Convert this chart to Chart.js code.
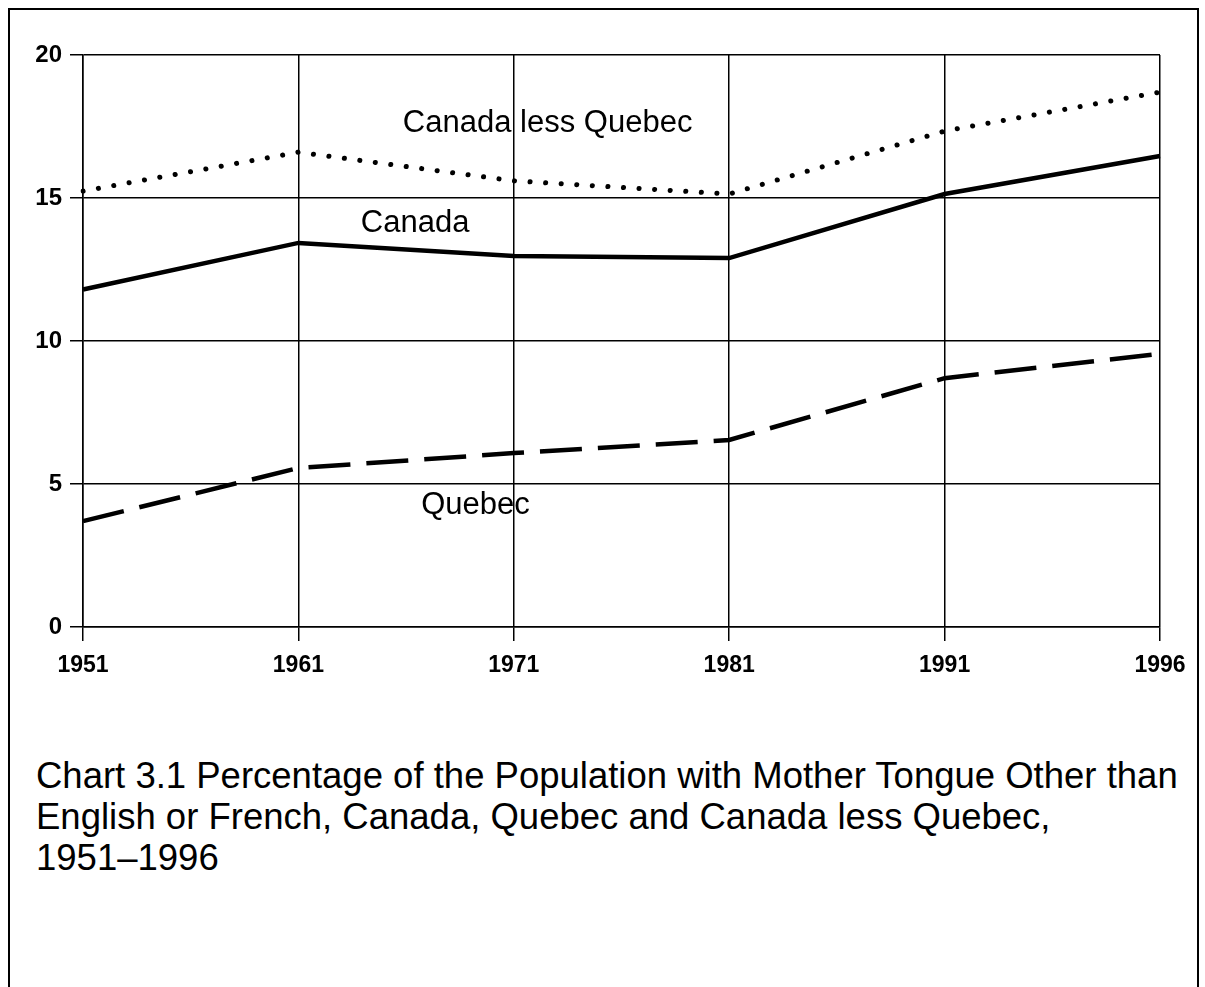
<!DOCTYPE html>
<html>
<head>
<meta charset="utf-8">
<script src="https://cdn.jsdelivr.net/npm/chart.js@4"></script>
<style>
  html, body { margin: 0; padding: 0; background: #fff; }
  body { width: 1205px; height: 987px; position: relative; overflow: hidden; }
  #frame { position: absolute; left: 8px; top: 8px; width: 1191px; height: 1000px;
           border-left: 2px solid #000; border-top: 2px solid #000; border-right: 2px solid #000; box-sizing: border-box; }
  #wrap { position: absolute; left: 0; top: 0; width: 1205px; height: 700px; }
  #caption { position: absolute; left: 36px; top: 755px; width: 1165px; white-space: nowrap;
             font-family: "Liberation Sans", Arial, sans-serif; font-size: 36.5px; line-height: 41px; color: #000; }
</style>
</head>
<body>
<div id="frame"></div>
<div id="wrap"><canvas id="c"></canvas></div>
<div id="caption"><div>Chart 3.1 Percentage of the Population with Mother Tongue Other than</div><div>English or French, Canada, Quebec and Canada less Quebec,</div><div>1951–1996</div></div>
<script>
const years = ["1951", "1961", "1971", "1981", "1991", "1996"];
const canada = [11.8, 13.43, 12.97, 12.9, 15.14, 16.47];
const quebec = [3.7, 5.56, 6.08, 6.54, 8.7, 9.55];
const canadaLessQuebec = [15.24, 16.6, 15.6, 15.14, 17.34, 18.7];
const yTicks = [0, 5, 10, 15, 20];
const seriesNames = ["Canada", "Quebec", "Canada less Quebec"];

const fontFam = '"Liberation Sans", Arial, sans-serif';

const labelPlugin = {
  id: 'seriesLabels',
  afterDatasetsDraw(chart) {
    const ctx = chart.ctx;
    const x = chart.scales.x, y = chart.scales.y;
    ctx.save();
    ctx.fillStyle = '#000';
    ctx.font = '31px ' + fontFam;
    ctx.textBaseline = 'middle';
    ctx.textAlign = 'left';
    const labels = [
      { text: seriesNames[2], cat: 1.485, val: 17.6 },
      { text: seriesNames[0], cat: 1.29, val: 14.12 },
      { text: seriesNames[1], cat: 1.57, val: 4.25 }
    ];
    labels.forEach(l => {
      const px = x.left + (x.right - x.left) * l.cat / (years.length - 1);
      ctx.fillText(l.text, px, y.getPixelForValue(l.val));
    });
    ctx.restore();
  }
};

new Chart(document.getElementById('c'), {
  type: 'line',
  data: {
    labels: years,
    datasets: [
      { label: seriesNames[2], data: canadaLessQuebec, borderColor: '#000', borderWidth: 5,
        borderDash: [0.1, 15.5], borderCapStyle: 'round', pointRadius: 0, tension: 0 },
      { label: seriesNames[0], data: canada, borderColor: '#000', borderWidth: 4.5,
        pointRadius: 0, tension: 0 },
      { label: seriesNames[1], data: quebec, borderColor: '#000', borderWidth: 4.5,
        borderDash: [42, 16], pointRadius: 0, tension: 0 }
    ]
  },
  options: {
    responsive: true,
    maintainAspectRatio: false,
    animation: false,
    layout: { padding: { left: 0, top: 55, right: 45, bottom: 0 } },
    plugins: { legend: { display: false }, tooltip: { enabled: false }, title: { display: false } },
    scales: {
      x: {
        type: 'category',
        offset: false,
        afterFit(s) { s.height = 73; },
        grid: { color: '#000', lineWidth: 1.5, tickLength: 14, drawTicks: true, tickColor: '#000' },
        border: { display: true, color: '#000', width: 1.5 },
        ticks: { color: '#000', font: { family: fontFam, size: 23, weight: 'bold' }, padding: 11, maxRotation: 0, autoSkip: false }
      },
      y: {
        min: 0, max: 20,
        afterFit(s) { s.width = 83; },
        afterBuildTicks(s) { s.ticks = yTicks.map(v => ({ value: v })); },
        grid: { color: '#000', lineWidth: 1.5, tickLength: 13, drawTicks: true, tickColor: '#000' },
        border: { display: true, color: '#000', width: 1.5 },
        ticks: { color: '#000', font: { family: fontFam, size: 24, weight: 'bold' }, padding: 8 }
      }
    }
  },
  plugins: [labelPlugin]
});
</script>
</body>
</html>
